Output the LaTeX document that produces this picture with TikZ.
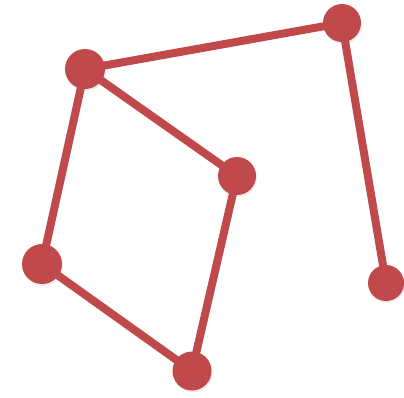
\documentclass[tikz,border=0pt]{standalone}
\usetikzlibrary{shadows}
\definecolor{nodered}{HTML}{C04A4B}
\begin{document}
\begin{tikzpicture}[x=1pt,y=-1pt,
  dot/.style={circle,fill=nodered,inner sep=0pt,minimum size=38pt,
    drop shadow={shadow xshift=1pt,shadow yshift=-2pt,opacity=0.15}},
  edge/.style={draw=nodered,line width=8pt}]
\useasboundingbox (0,0) rectangle (404,397);
\coordinate (pA) at (85,69);
\coordinate (pB) at (342,23);
\coordinate (pC) at (237,176);
\coordinate (pD) at (42,264);
\coordinate (pE) at (192,371);
\coordinate (pF) at (386,283);
\draw[edge] (pA) -- (pB) (pA) -- (pC) (pA) -- (pD) (pC) -- (pE) (pD) -- (pE) (pB) -- (pF);
\node[dot,minimum size=40pt] (A) at (pA) {};
\node[dot,minimum size=38pt] (B) at (pB) {};
\node[dot,minimum size=38pt] (C) at (pC) {};
\node[dot,minimum size=40pt] (D) at (pD) {};
\node[dot,minimum size=39pt] (E) at (pE) {};
\node[dot,minimum size=36pt] (F) at (pF) {};
\end{tikzpicture}
\end{document}
